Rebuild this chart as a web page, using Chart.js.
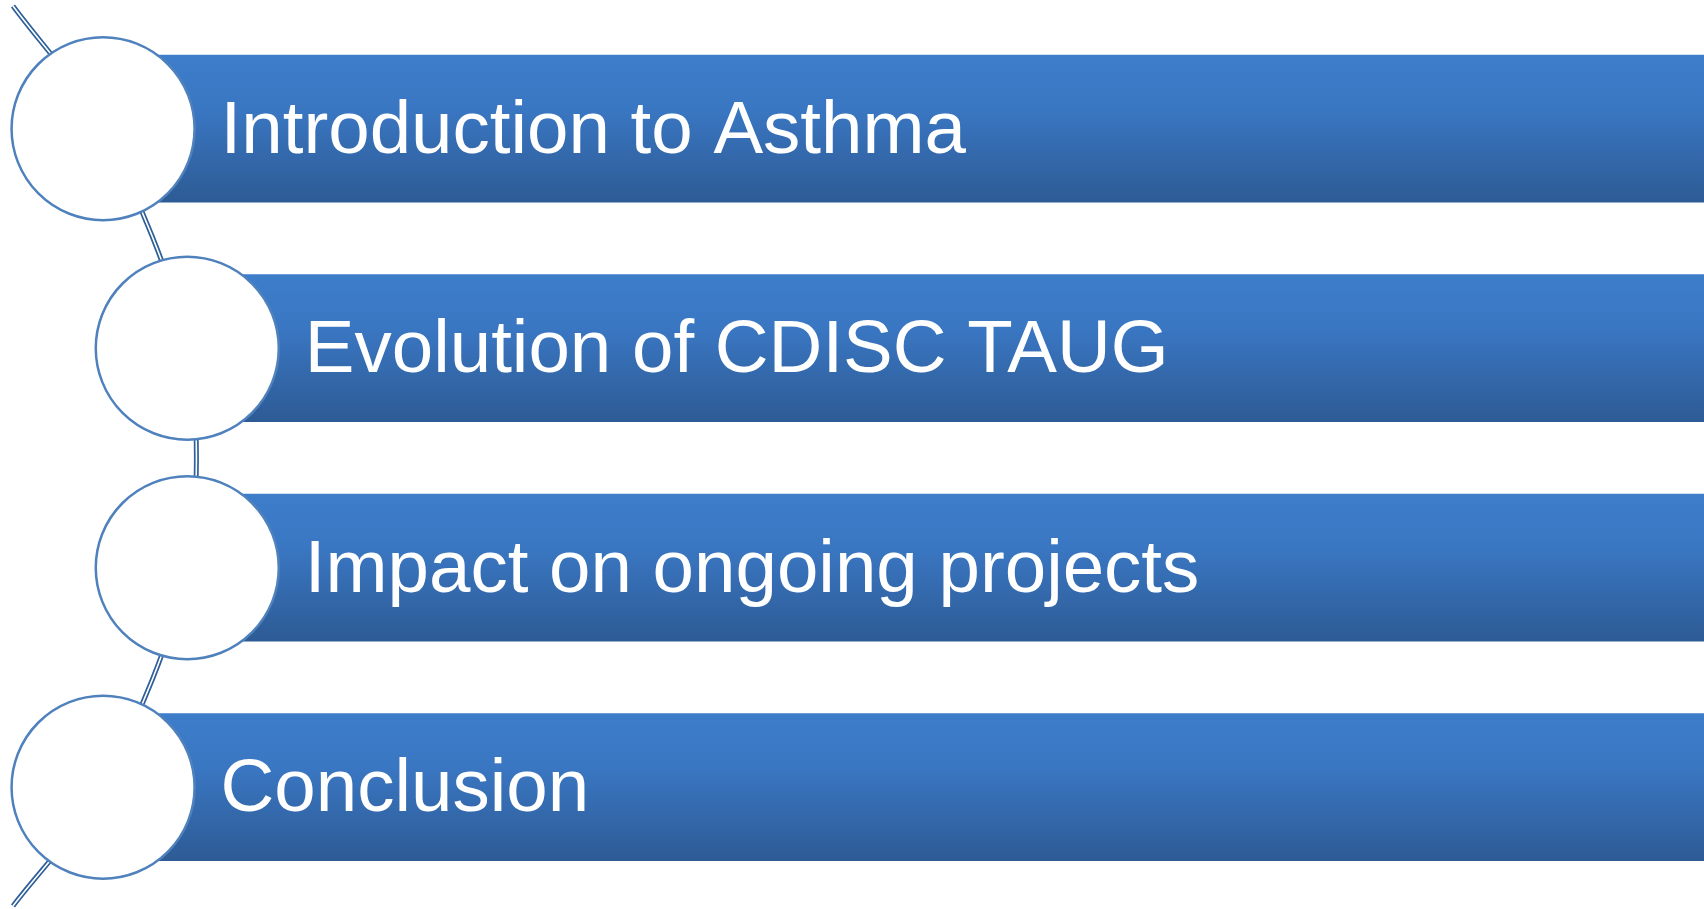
<!DOCTYPE html>
<html>
<head>
<meta charset="utf-8">
<style>
  html, body { margin: 0; padding: 0; background: #ffffff; overflow: hidden; }
  #wrap { width: 1704px; height: 909px; }
</style>
<script src="https://cdn.jsdelivr.net/npm/chart.js@4/dist/chart.umd.min.js"></script>
</head>
<body>
<div id="wrap"><canvas id="chart"></canvas></div>
<script>
// agenda items, top to bottom
const topics = [
  'Introduction to Asthma',
  'Evolution of CDISC TAUG',
  'Impact on ongoing projects',
  'Conclusion'
];
const steps = [0, 1, 2, 3];

// layout (pixels)
const ROW0 = 128.7;      // centre of first row
const ROW_GAP = 219.5;
const BAR_H = 147;
const NODE_R = 91.5;
const ARC_CX = -427, ARC_R = 624;  // the connector arc the nodes sit on
const BAR_INSET = 54;    // bar starts this far right of node centre
const TEXT_INSET = 117.5;

const rowPx = i => ROW0 + i * ROW_GAP;
const nodeX = i => {
  const dy = rowPx(i) - rowPx(1.5);
  return ARC_CX + Math.sqrt(ARC_R * ARC_R - dy * dy);
};

const yMin = -ROW0 / ROW_GAP;
const yMax = (909 - ROW0) / ROW_GAP;

const nodes = steps.map(i => ({ x: nodeX(i), y: i, r: NODE_R }));
const connector = [{ x: 13, y: (6 - ROW0) / ROW_GAP }]
  .concat(steps.map(i => ({ x: nodeX(i), y: i })))
  .concat([{ x: 13, y: (906 - ROW0) / ROW_GAP }]);

function barFill(ctx) {
  const chart = ctx.chart;
  if (!chart.chartArea || !chart.scales.y) return '#3a72bb';
  const c = chart.scales.y.getPixelForValue(steps[ctx.dataIndex]);
  const g = chart.ctx.createLinearGradient(0, c - BAR_H / 2, 0, c + BAR_H / 2);
  g.addColorStop(0, '#3d7dca');
  g.addColorStop(0.35, '#3a77c3');
  g.addColorStop(1, '#2d5b95');
  return g;
}

const labelPlugin = {
  id: 'topicLabels',
  afterDatasetsDraw(chart) {
    const { ctx, scales } = chart;
    ctx.save();
    ctx.fillStyle = '#ffffff';
    ctx.font = '74.5px "Liberation Sans", Arial, sans-serif';
    ctx.textBaseline = 'alphabetic';
    topics.forEach((t, i) => {
      const x = scales.x.getPixelForValue(nodeX(i) + TEXT_INSET);
      const y = scales.y.getPixelForValue(i) + 24;
      ctx.fillText(t, x, y);
    });
    ctx.restore();
  }
};

new Chart(document.getElementById('chart'), {
  type: 'bar',
  data: {
    datasets: [
      {
        type: 'bubble',
        data: nodes,
        backgroundColor: '#ffffff',
        borderColor: '#4f81bd',
        borderWidth: 2.5,
        clip: false,
        order: 0
      },
      {
        type: 'line',
        data: connector,
        borderColor: '#ffffff',
        borderWidth: 1.6,
        pointRadius: 0,
        tension: 0.3,
        clip: false,
        order: 1
      },
      {
        type: 'line',
        data: connector,
        borderColor: '#2f5f98',
        borderWidth: 5,
        pointRadius: 0,
        tension: 0.3,
        clip: false,
        order: 2
      },
      {
        type: 'bar',
        data: steps.map(i => ({ x: [nodeX(i) + BAR_INSET, 1704], y: i })),
        backgroundColor: barFill,
        borderWidth: 0,
        barThickness: BAR_H,
        order: 3
      }
    ]
  },
  options: {
    indexAxis: 'y',
    responsive: true,
    maintainAspectRatio: false,
    animation: false,
    events: [],
    layout: { padding: 0, autoPadding: false },
    plugins: { legend: { display: false }, tooltip: { enabled: false } },
    scales: {
      x: { type: 'linear', min: 0, max: 1704, offset: false, display: false },
      y: { type: 'linear', min: yMin, max: yMax, reverse: true, offset: false, display: false }
    }
  },
  plugins: [labelPlugin]
});
</script>
</body>
</html>
